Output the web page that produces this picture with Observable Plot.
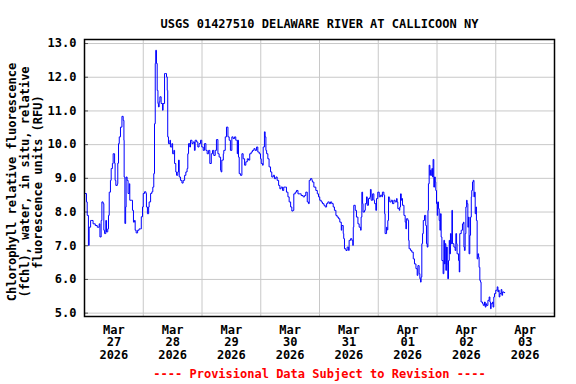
<!DOCTYPE html>
<html><head><meta charset="utf-8">
<script src="https://cdn.jsdelivr.net/npm/d3@7"></script>
<script src="https://cdn.jsdelivr.net/npm/@observablehq/plot@0.6"></script>
<style>body{margin:0;background:#fff}</style>
</head><body><div id="chart"></div>
<script>
const title = "USGS 01427510 DELAWARE RIVER AT CALLICOON NY";
const yLabel = "Chlorophyll relative fluorescence\n(fChl), water, in situ, relative\nfluorescence units (RFU)";
const footer = "---- Provisional Data Subject to Revision ----";
const startDay = "2026-03-27";
const endDay = "2026-04-04";
const labelDays = ["2026-03-27","2026-03-28","2026-03-29","2026-03-30","2026-03-31","2026-04-01","2026-04-02","2026-04-03"];
const gridDays = ["2026-03-28","2026-03-29","2026-03-30","2026-03-31","2026-04-01","2026-04-02","2026-04-03"];
const yTicks = [5,6,7,8,9,10,11,12,13];
// hours since 2026-03-27 00:00
const hours = [0.3,0.8,1.1,1.6,1.9,2.5,3.0,3.5,4.4,5.2,6.0,6.3,6.8,7.1,7.6,7.9,8.2,8.7,9.0,9.5,9.8,10.1,10.6,10.9,11.4,11.7,12.3,12.5,12.8,13.4,13.6,13.9,14.2,14.7,15.3,15.8,16.1,16.2,16.5,16.8,17.0,17.4,17.8,18.3,18.5,19.1,19.6,20.0,20.4,20.7,21.1,21.7,22.3,22.9,23.2,23.7,24.0,24.5,25.1,25.3,25.7,26.2,26.4,27.0,27.5,27.9,28.3,28.6,28.9,29.1,29.4,29.7,30.0,30.2,30.5,30.8,31.3,31.9,32.1,32.7,33.2,33.5,33.8,34.0,34.3,34.9,35.1,35.7,36.0,36.5,36.8,37.3,37.6,38.1,38.4,38.7,39.2,39.8,40.3,40.9,41.4,41.9,42.2,42.5,43.0,43.3,43.9,44.4,44.9,45.2,45.8,46.3,46.8,47.4,47.9,48.5,49.0,49.6,50.1,50.7,51.2,51.8,52.3,52.8,53.4,53.9,54.5,55.0,55.6,55.8,56.1,56.7,56.9,57.5,58.0,58.6,59.1,59.6,60.2,60.7,61.3,61.8,62.1,62.4,62.6,62.9,63.2,63.7,64.3,64.8,65.4,65.9,66.5,67.0,67.5,68.1,68.6,69.2,69.7,70.3,70.8,71.4,71.9,72.2,72.7,73.0,73.5,73.8,74.1,74.4,74.9,75.4,76.0,76.5,77.1,77.6,78.2,78.7,79.3,79.8,80.3,80.9,81.4,82.0,82.5,83.1,83.6,84.2,84.7,85.2,85.5,86.1,86.6,87.2,88.0,88.5,89.3,89.9,90.4,91.0,91.5,91.8,92.3,92.9,93.1,93.7,94.5,95.1,95.6,96.1,96.7,97.2,97.8,98.3,98.9,99.4,100.0,100.5,101.0,101.6,102.1,102.7,103.2,103.8,104.3,104.9,105.1,105.7,105.9,106.2,106.8,107.3,107.9,108.1,108.7,109.2,109.6,109.8,110.0,110.6,111.1,111.7,112.2,112.8,113.0,113.3,113.6,113.8,114.4,114.7,115.2,115.5,116.0,116.6,116.8,117.1,117.7,118.2,118.5,119.0,119.3,119.8,120.4,120.9,121.5,121.7,122.3,122.6,122.8,123.4,123.6,123.9,124.2,124.5,124.7,125.3,125.8,126.4,126.9,127.5,127.7,128.0,128.6,128.8,129.1,129.4,129.6,129.9,130.5,131.0,131.3,131.5,132.1,132.4,132.6,133.2,133.7,134.3,134.8,135.4,135.9,136.2,136.7,137.0,137.3,137.5,137.8,138.1,138.4,138.9,139.4,139.7,140.0,140.3,140.5,140.8,141.1,141.3,141.6,141.9,142.2,142.4,142.7,143.0,143.3,143.5,143.8,144.1,144.3,144.6,144.9,145.2,145.4,145.7,146.0,146.5,146.8,147.1,147.3,147.6,147.9,148.2,148.4,148.7,149.0,149.2,149.5,149.8,150.1,150.3,150.9,151.4,151.7,152.0,152.2,152.8,153.1,153.3,153.9,154.4,154.8,155.0,155.2,155.5,155.8,156.1,156.3,156.6,156.9,157.1,157.4,157.7,158.0,158.2,158.5,158.8,159.1,159.3,159.6,159.9,160.1,160.4,160.7,161.0,161.2,161.5,161.8,162.0,162.6,162.9,163.4,163.7,164.0,164.2,164.8,165.3,165.6,165.9,166.1,166.7,166.9,167.2,167.5,168.0,168.6,168.9,169.1,169.4,169.7,170.2,170.5,170.8,171.3,171.8];
const values = [8.55,8.30,7.90,7.01,7.55,7.75,7.75,7.65,7.60,7.55,7.65,7.26,7.75,8.30,8.25,7.46,7.36,7.75,7.41,7.50,7.90,8.59,8.94,9.29,9.44,9.73,9.45,8.94,8.79,8.84,9.45,10.03,10.23,10.52,10.84,10.72,10.13,9.04,7.66,8.15,9.04,8.94,8.55,8.84,8.35,8.35,8.05,7.70,7.75,7.46,7.38,7.46,7.50,7.50,7.86,8.15,8.55,8.60,8.55,8.15,7.95,8.15,8.30,8.55,8.60,8.74,9.14,10.62,12.41,12.80,12.41,11.61,11.22,11.12,11.27,11.42,11.22,11.02,11.22,12.11,12.11,12.01,11.61,10.23,10.03,10.13,9.93,10.03,9.73,9.83,9.44,9.19,9.09,9.19,9.54,9.04,8.94,8.86,8.94,9.09,9.19,9.29,9.73,10.03,9.93,10.13,10.03,10.08,9.83,10.13,10.08,9.93,10.03,10.13,9.93,9.83,10.03,9.83,9.73,9.83,9.44,9.73,9.83,9.68,9.83,10.15,9.73,9.63,9.24,9.19,9.54,9.73,9.83,10.23,10.52,10.23,10.13,9.83,10.23,10.18,10.23,10.13,10.13,9.73,10.13,9.63,9.14,9.09,9.73,9.58,9.39,9.49,9.58,9.54,9.73,9.78,9.83,9.88,9.83,9.93,9.78,9.73,9.58,9.44,9.39,9.93,10.38,10.23,9.83,9.73,9.58,9.34,9.19,9.04,9.09,8.99,9.04,8.94,8.79,8.69,8.74,8.64,8.74,8.74,8.59,8.45,8.30,8.15,8.03,8.05,8.54,8.59,8.64,8.54,8.54,8.49,8.45,8.49,8.59,8.30,8.25,8.94,8.99,8.94,8.89,8.74,8.64,8.54,8.45,8.35,8.30,8.25,8.20,8.15,8.25,8.30,8.25,8.30,8.25,8.15,8.05,7.90,7.85,7.80,7.70,7.46,7.60,7.36,7.21,6.91,6.86,6.96,6.86,7.16,7.21,7.16,7.01,7.55,8.20,8.05,7.85,7.65,7.55,7.46,7.85,8.59,8.25,8.00,8.05,8.25,8.45,8.20,8.40,8.45,8.67,8.35,8.54,8.35,8.25,8.05,8.40,8.59,8.45,8.50,8.45,8.59,8.50,7.95,7.36,7.55,7.47,7.75,8.45,8.40,8.30,8.35,8.25,8.35,8.30,8.40,8.30,8.10,8.05,8.15,8.54,8.35,8.40,8.20,7.90,7.70,7.50,7.80,7.75,7.16,6.91,6.86,6.81,6.61,6.46,6.32,6.12,6.41,6.17,6.02,5.92,6.07,7.06,7.36,7.75,7.90,7.60,7.06,6.96,8.05,8.84,9.39,9.09,9.24,9.09,9.29,9.04,9.56,8.74,9.04,8.89,8.64,8.25,7.90,8.30,8.10,7.75,7.46,7.95,7.26,6.56,6.17,7.16,6.46,7.06,6.27,6.96,6.46,6.02,6.56,7.16,6.76,7.36,7.06,8.05,7.06,6.96,6.86,7.36,7.06,6.76,6.56,6.22,7.36,7.46,7.65,7.70,6.96,6.86,7.36,8.15,8.35,8.25,7.55,7.85,6.76,7.31,7.85,8.45,8.64,8.89,8.94,8.45,8.59,7.95,8.15,7.75,6.61,6.76,6.66,6.36,5.97,5.92,5.33,5.28,5.23,5.33,5.18,5.28,5.23,5.38,5.48,5.33,5.13,5.28,5.33,5.18,5.48,5.58,5.68,5.78,5.63,5.68,5.48,5.58,5.70,5.53,5.63,5.61,5.61];

const t0 = new Date(startDay + "T00:00:00Z");
const data = hours.map((h, i) => ({date: new Date(+t0 + h * 3600e3), value: values[i]}));
const noon = d => new Date(d + "T12:00:00Z");
const midnight = d => new Date(d + "T00:00:00Z");
const fmt = d3.utcFormat("%b\n%d\n%Y");
const grey = "#c8c8c8";

const chart = Plot.plot({
  width: 576, height: 384,
  marginLeft: 84, marginRight: 22, marginTop: 39, marginBottom: 68,
  style: {fontFamily: "DejaVu Sans Mono", fontSize: "12px", fontWeight: "bold", background: "white", color: "black", overflow: "visible"},
  x: {type: "utc", domain: [midnight(startDay), midnight(endDay)]},
  y: {domain: [4.9, 13.12]},
  marks: [
    Plot.gridY(yTicks, {stroke: grey, strokeOpacity: 1, strokeWidth: 1}),
    Plot.gridX(gridDays.map(midnight), {stroke: grey, strokeOpacity: 1, strokeWidth: 1}),
    Plot.axisY(yTicks, {tickSize: 0, tickPadding: 8, tickFormat: d => d.toFixed(1), label: null}),
    Plot.axisY(yTicks, {tickSize: -4, tickPadding: 0, tickFormat: () => "", label: null, stroke: "#555"}),
    Plot.axisX(labelDays.map(noon), {tickSize: 0, tickPadding: 8, tickFormat: fmt, label: null, lineHeight: 1.06}),
    Plot.line(data, {x: "date", y: "value", stroke: "#0000ff", strokeWidth: 1, curve: "step-after"}),
    Plot.frame({stroke: "black", strokeWidth: 1.5}),
    Plot.text([title], {frameAnchor: "top", dy: -20, fill: "black", fontWeight: "bold"}),
    Plot.text([footer], {frameAnchor: "bottom", dy: 61, fill: "#ff0000", fontWeight: "bold"}),
    Plot.text([yLabel], {frameAnchor: "left", textAnchor: "middle", dx: -59.5, dy: 4, rotate: -90, lineHeight: 1.05, fill: "black", fontWeight: "bold"})
  ]
});
document.getElementById("chart").appendChild(chart);
</script>
</body></html>
